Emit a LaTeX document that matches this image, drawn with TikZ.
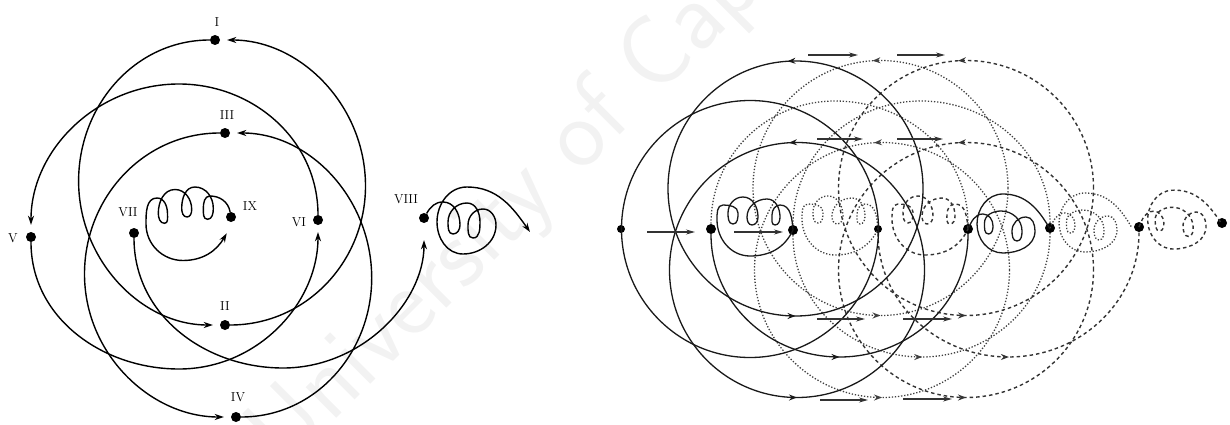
\documentclass[tikz,border=0pt]{standalone}
\usepackage{tikz}
\usetikzlibrary{arrows.meta,decorations.markings}

\tikzset{
  dot/.style={circle,fill=black,inner sep=0pt,minimum size=10pt},
  smalldot/.style={circle,fill=black,inner sep=0pt,minimum size=8pt},
  romlabel/.style={inner sep=0pt,font=\fontsize{13}{15}\selectfont},
  orbit/.style={line width=1.4pt,shorten >=7pt,-{Stealth[length=9pt,width=6pt]}},
  spiral/.style={line width=1.4pt,-{Stealth[length=9pt,width=6pt]}},
  solidline/.style={line width=1.3pt,black!90},
  dotline/.style={line width=1.3pt,black!75,dash pattern=on 1.3pt off 1.8pt},
  dashline/.style={line width=1.4pt,black!80,dash pattern=on 3.5pt off 3pt},
  fieldarrow/.style={line width=1.2pt,black!80,-{Stealth[length=9pt,width=5pt]}},
  flow/.style={postaction=decorate,decoration={markings,
    mark=at position .26 with {\arrow{Stealth[length=8pt,width=6pt]}},
    mark=at position .75 with {\arrow{Stealth[length=8pt,width=6pt]}}}},
  midflow/.style={postaction=decorate,decoration={markings,
    mark=at position .5 with {\arrow{Stealth[length=8pt,width=6pt]}}}},
  % quarter turns between the extremes of a loop
  qtl/.style={out=180,in=90},
  qlb/.style={out=-90,in=180},
  qbr/.style={out=0,in=-90},
  qrt/.style={out=90,in=0},
  qtr/.style={out=0,in=90},
  qrb/.style={out=-90,in=0},
  qbl/.style={out=180,in=-90},
  qlt/.style={out=90,in=180},
  coilloop/.pic={
    \draw[pic actions] (0,0) to[out=95,in=0] (-13,25) to[qtl] (-21,15) to[qlb] (-18,5) to[qbr] (-13,13)
      to[qrt] (-26,31) to[qtl] (-46,13) to[qlb] (-41,5) to[qbr] (-35,13)
      to[qrt] (-50,33) to[qtl] (-65,17) to[qlb] (-60,6) to[qbr] (-55,17)
      to[qrt] (-70,25) to[qtl] (-76,10) to[qlb] (-43,-26) to[out=0,in=-115] (0,0);
  },
  coilopen/.pic={
    \draw[pic actions] (0,0) to[out=65,in=180] (15,15) to[qtr] (25,3) to[qrb] (20.5,-5) to[qbl] (16.5,6)
      to[qlt] (33,18) to[qtr] (54,-2) to[qrb] (49,-12) to[qbl] (44,-2)
      to[qlt] (58,12) to[qtr] (67,-2) to[qrb] (35,-24) to[qbl] (9,5)
      to[qlt] (35,35) to[out=0,in=120] (82,0);
  },
}

\begin{document}
\begin{tikzpicture}[x=1pt,y=1pt]
  \useasboundingbox (0,0) rectangle (1230,424);
  \begin{scope}
    \clip (0,0) rectangle (1230,424);
    \node[rotate=45,anchor=west,inner sep=0pt,text=black!5,font=\fontsize{100}{110}\sffamily] (stamp) at (268,-28) {University of Cape Town};
  \end{scope}

  % left diagram
  \node[dot] (I) at (215,384) {};
  \node[dot] (III) at (225,291) {};
  \node[dot] (II) at (225,99) {};
  \node[dot] (IV) at (236,7) {};
  \node[dot] (V) at (31,187) {};
  \node[dot] (VI) at (318,204) {};
  \node[dot] (VII) at (134,191) {};
  \node[dot] (IX) at (231,207) {};
  \node[dot] (VIII) at (424,206) {};

  \node[romlabel] (lI) at (217,402) {I};
  \node[romlabel] (lIII) at (227,309) {III};
  \node[romlabel] (lII) at (225,118) {II};
  \node[romlabel] (lIV) at (238,27) {IV};
  \node[romlabel] (lV) at (13,186) {V};
  \node[romlabel] (lVI) at (299,202) {VI};
  \node[romlabel] (lVII) at (128,212) {VII};
  \node[romlabel] (lIX) at (250,218) {IX};
  \node[romlabel] (lVIII) at (406,225) {VIII};

  \coordinate (Ia) at (78.6,243);
  \coordinate (Ib) at (365.5,238);
  \coordinate (IIIa) at (84.5,150);
  \coordinate (IIIb) at (371.7,146);
  \coordinate (Va) at (179,340);
  \coordinate (Vb) at (179,55);
  \coordinate (VIIa) at (283,56);
  \coordinate (IXend) at (226.7,190.7);
  \coordinate (VIIIend) at (530,192);

  \draw[orbit] (I) to[out=180,in=90] (Ia) to[out=-90,in=180] (II);
  \draw[orbit] (II) to[out=0,in=-90] (Ib) to[out=90,in=0] (I);
  \draw[orbit] (III) to[out=180,in=90] (IIIa) to[out=-90,in=180] (IV);
  \draw[orbit] (IV) to[out=0,in=-90] (IIIb) to[out=90,in=0] (III);
  \draw[orbit] (VI) to[out=90,in=0] (Va) to[out=180,in=90] (V);
  \draw[orbit] (V) to[out=-90,in=180] (Vb) to[out=0,in=-90] (VI);
  \draw[orbit,shorten >=17pt] (VII) to[out=-90,in=180] (VIIa) to[out=0,in=-90] (VIII);

  \draw[spiral] (IX) to[out=100,in=0] (210,228) to[qtl] (203.3,215.7) to[qlb] (207.5,204.7) to[qbr] (213.3,215.7)
    to[qrt] (195,237) to[qtl] (181.7,215.7) to[qlb] (187,207) to[qbr] (191.7,214.5)
    to[qrt] (175,234.5) to[qtl] (158.3,210.7) to[qlb] (164.5,200.7) to[qbr] (167.5,210)
    to[qrt] (157,226) to[qtl] (146,200) to[qlb] (183,163.5) to[out=0,in=-120] (IXend);
  \draw[spiral] (VIII) to[out=60,in=180] (443,222) to[qtr] (460,199) to[qrb] (453,190) to[qbl] (448,202)
    to[qlt] (467,221) to[qtr] (480,202) to[qrb] (473,186) to[qbl] (468,199)
    to[qlt] (483,215) to[qtr] (496,199) to[qrb] (463,170) to[qbl] (437,202)
    to[qlt] (467,237) to[out=0,in=125] (VIIIend);

  % right diagram
  \node[smalldot] (v1) at (621,195) {};
  \node[dot] (v2) at (711,195) {};
  \node[dot] (v3) at (793,194) {};
  \node[smalldot] (v4) at (878,195) {};
  \node[dot] (v5) at (968,195) {};
  \node[dot] (v6) at (1050,196) {};
  \node[dot] (v7) at (1139,197) {};
  \node[dot] (v8) at (1222,201) {};

  \coordinate (ca) at (795.5,235.5);
  \coordinate (cb) at (797,154);
  \coordinate (cc) at (750,195);
  \coordinate (da) at (880.5,236);
  \coordinate (db) at (882,154);
  \coordinate (ea) at (966,236);
  \coordinate (eb) at (966,154);
  \coordinate (dt) at (835,323);
  \coordinate (et) at (921,323);
  \coordinate (bs) at (839.5,67);
  \coordinate (bd) at (921.5,67);
  \coordinate (be) at (1008.5,67);

  \draw[dotline,flow] (da) circle[radius=127.5];
  \draw[dotline,flow] (db) circle[radius=127.5];
  \draw[dotline] (v5) to[out=90,in=0] (dt) to[out=180,in=90] (v2);
  \draw[dotline] (v6) to[out=90,in=0] (et) to[out=180,in=90] (v3);
  \draw[dotline,midflow] (v3) to[out=-90,in=180] (bd) to[out=0,in=-90] (v6);
  \pic[dotline] at (v4) {coilloop};
  \pic[dotline] at (v6) {coilopen};

  \draw[dashline,flow] (ea) circle[radius=127.5];
  \draw[dashline,flow] (eb) circle[radius=127.5];
  \draw[dashline,midflow] (v4) to[out=-90,in=180] (be) to[out=0,in=-90] (v7);
  \pic[dashline] at (v5) {coilloop};
  \pic[dashline,rotate=3] at (v7) {coilopen};

  \draw[solidline,flow] (ca) circle[radius=127.5];
  \draw[solidline,flow] (cb) circle[radius=127.5];
  \draw[solidline] (cc) circle[radius=128.5];
  \draw[solidline,midflow] (v2) to[out=-90,in=180] (bs) to[out=0,in=-90] (v5);
  \pic[solidline] at (v3) {coilloop};
  \pic[solidline] at (v5) {coilopen};

  % field arrows
  \coordinate (h1) at (647,192); \coordinate (t1) at (695,192);
  \coordinate (h2) at (734,192); \coordinate (t2) at (783,192);
  \coordinate (h3) at (808,369); \coordinate (t3) at (858,369);
  \coordinate (h4) at (897,369); \coordinate (t4) at (945,369);
  \coordinate (h5) at (817,285); \coordinate (t5) at (863,285);
  \coordinate (h6) at (897,285); \coordinate (t6) at (943,285);
  \coordinate (h7) at (817,105); \coordinate (t7) at (865,105);
  \coordinate (h8) at (903,105); \coordinate (t8) at (952,105);
  \coordinate (h9) at (820,24); \coordinate (t9) at (868,24);
  \coordinate (h10) at (903,25); \coordinate (t10) at (952,25);
  \draw[fieldarrow] (h1) -- (t1);
  \draw[fieldarrow] (h2) -- (t2);
  \draw[fieldarrow] (h3) -- (t3);
  \draw[fieldarrow] (h4) -- (t4);
  \draw[fieldarrow] (h5) -- (t5);
  \draw[fieldarrow] (h6) -- (t6);
  \draw[fieldarrow] (h7) -- (t7);
  \draw[fieldarrow] (h8) -- (t8);
  \draw[fieldarrow] (h9) -- (t9);
  \draw[fieldarrow] (h10) -- (t10);
\end{tikzpicture}
\end{document}
